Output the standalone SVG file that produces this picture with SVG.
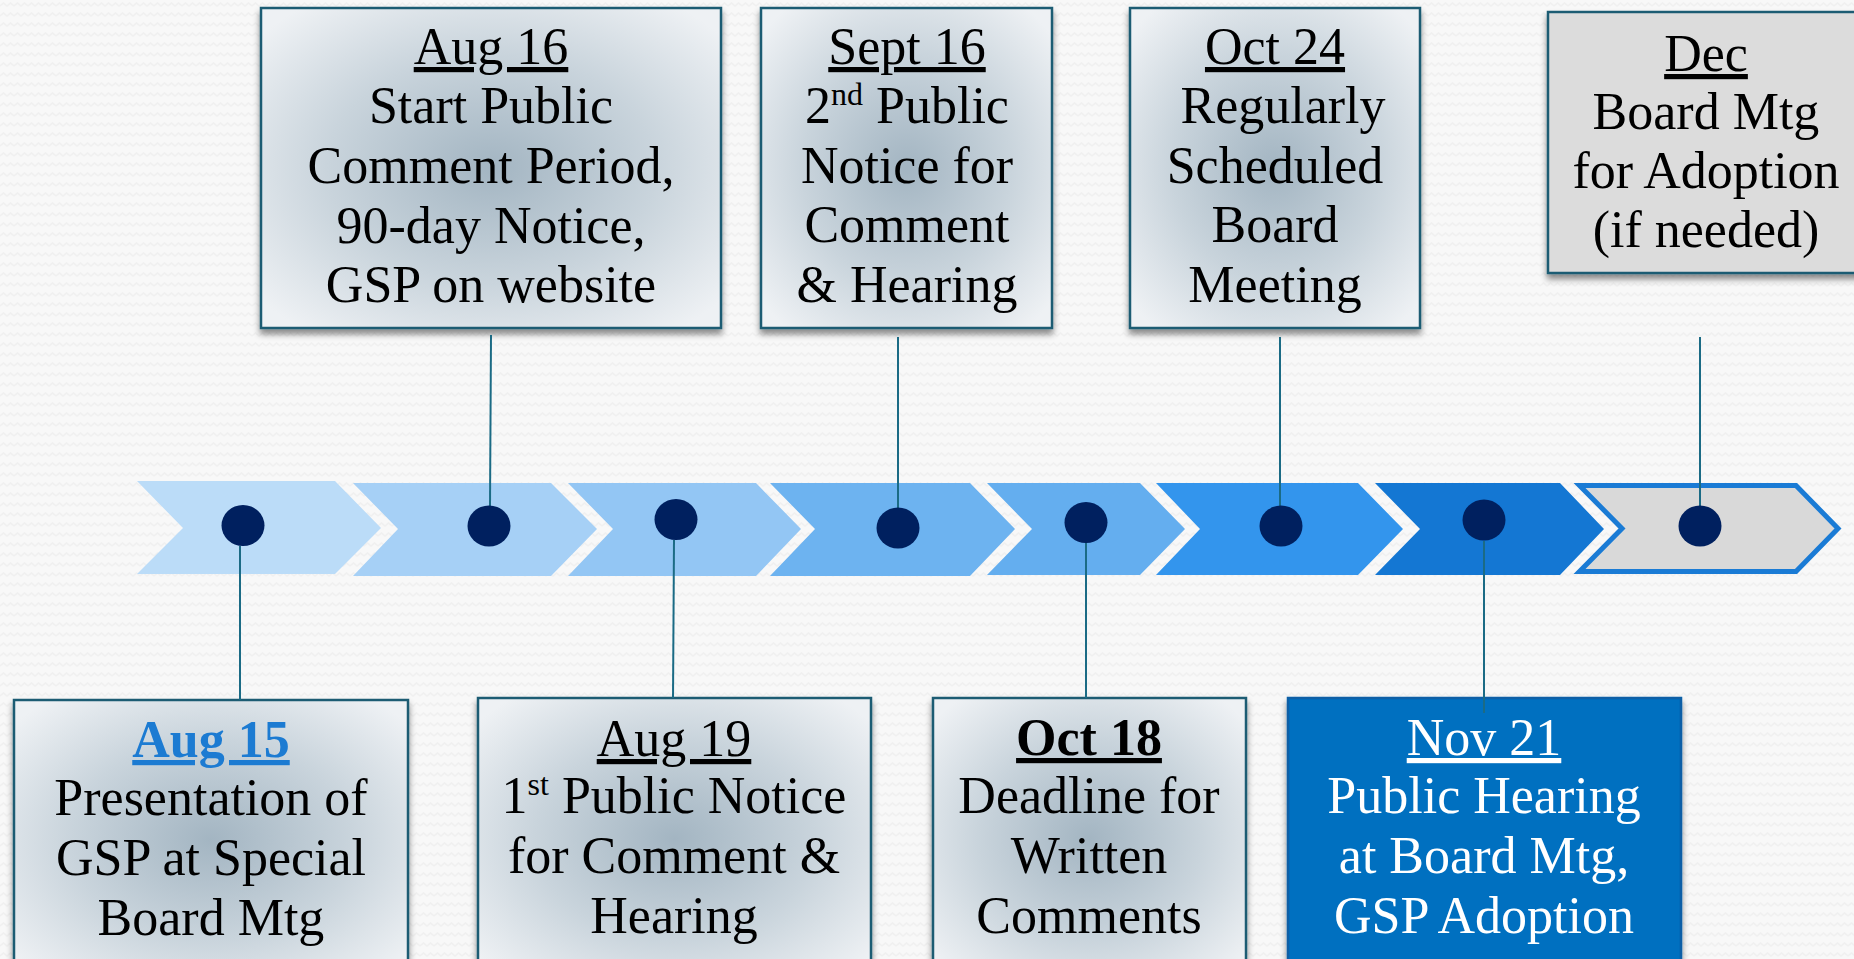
<svg xmlns="http://www.w3.org/2000/svg" width="1854" height="959" viewBox="0 0 1854 959">
<style>
.t{font-family:"Liberation Serif","Times New Roman",serif;font-size:52px;fill:#000;text-anchor:middle}
.u{text-decoration:underline}
.box{fill:url(#boxg);stroke:#1f5b73;stroke-width:2.5;filter:url(#sh)}
.ln{stroke:#1b6b85;stroke-width:2;fill:none}
.dot{fill:#00205f}
.w{fill:#fff}
</style>
<defs>
<pattern id="bgp" width="14" height="10" patternUnits="userSpaceOnUse">
<rect width="14" height="10" fill="#f8f8f8"/>
<polyline points="0,6 3.5,3 7,6 10.5,3 14,6" fill="none" stroke="#f0f0f0" stroke-width="1.5"/>
</pattern>
<radialGradient id="boxg" cx="50%" cy="50%" r="65%">
<stop offset="0" stop-color="#a3b5c2"/>
<stop offset="0.55" stop-color="#c9d4dc"/>
<stop offset="1" stop-color="#eef1f4"/>
</radialGradient>
<filter id="sh" x="-10%" y="-10%" width="120%" height="125%">
<feDropShadow dx="0" dy="5" stdDeviation="3" flood-color="#000" flood-opacity="0.45"/>
</filter>
</defs>
<rect width="1854" height="959" fill="url(#bgp)"/>

<g id="timeline">
<polygon points="137,481 335,481 381,528 335,574 137,574 183,528" fill="#bbdcf8"/>
<polygon points="353,483 551,483 597,529 551,576 353,576 398,529" fill="#a6d0f6"/>
<polygon points="568,483 756,483 801,529 756,576 568,576 613,529" fill="#93c6f4"/>
<polygon points="770,483 970,483 1015,529 970,576 770,576 815,529" fill="#6db3f0"/>
<polygon points="987,483 1140,483 1185,529 1140,575 987,575 1032,529" fill="#64aeef"/>
<polygon points="1156,483 1358,483 1403,529 1358,575 1156,575 1200,529" fill="#3395ed"/>
<polygon points="1375,483 1560,483 1604,529 1560,575 1375,575 1420,529" fill="#1477d3"/>
<polygon points="1579.5,485.5 1796,485.5 1838,528.5 1796,571.5 1579.5,571.5 1622,528.5" fill="#d9d9d9" stroke="#1a7bd5" stroke-width="5"/>
</g>

<g id="node-aug16">
<rect class="box" x="261" y="8" width="460" height="320"/>
<text class="t"><tspan class="u" x="491" y="64">Aug 16</tspan><tspan x="491" y="123">Start Public</tspan><tspan x="491" y="183">Comment Period,</tspan><tspan x="491" y="243">90-day Notice,</tspan><tspan x="491" y="302">GSP on website</tspan></text>
</g>
<g id="node-sept16">
<rect class="box" x="761" y="8" width="291" height="320"/>
<text class="t"><tspan class="u" x="907" y="64">Sept 16</tspan><tspan x="907" y="123">2<tspan font-size="32" dy="-18">nd</tspan><tspan dy="18"> Public</tspan></tspan><tspan x="907" y="183">Notice for</tspan><tspan x="907" y="242">Comment</tspan><tspan x="907" y="302">&amp; Hearing</tspan></text>
</g>
<g id="node-oct24">
<rect class="box" x="1130" y="8" width="290" height="320"/>
<text class="t"><tspan class="u" x="1275" y="64">Oct 24</tspan><tspan x="1283" y="123">Regularly</tspan><tspan x="1275" y="183">Scheduled</tspan><tspan x="1275" y="242">Board</tspan><tspan x="1275" y="302">Meeting</tspan></text>
</g>
<g id="node-dec">
<rect x="1548" y="12" width="330" height="261" fill="#dcdcdc" stroke="#1f5b73" stroke-width="2.5" filter="url(#sh)"/>
<text class="t"><tspan class="u" x="1706" y="71">Dec</tspan><tspan x="1706" y="129">Board Mtg</tspan><tspan x="1706" y="188">for Adoption</tspan><tspan x="1706" y="247">(if needed)</tspan></text>
</g>

<g id="node-aug15">
<rect class="box" x="14" y="700" width="394" height="280"/>
<text class="t"><tspan class="u" x="211" y="757" font-weight="bold" fill="#1c7bd2">Aug 15</tspan><tspan x="211" y="815">Presentation of</tspan><tspan x="211" y="875">GSP at Special</tspan><tspan x="211" y="935">Board Mtg</tspan></text>
</g>
<g id="node-aug19">
<rect class="box" x="478" y="698" width="393" height="282"/>
<text class="t"><tspan class="u" x="674" y="756">Aug 19</tspan><tspan x="674" y="813">1<tspan font-size="32" dy="-18">st</tspan><tspan dy="18"> Public Notice</tspan></tspan><tspan x="674" y="873">for Comment &amp;</tspan><tspan x="674" y="933">Hearing</tspan></text>
</g>
<g id="node-oct18">
<rect class="box" x="933" y="698" width="313" height="282"/>
<text class="t"><tspan class="u" x="1089" y="755" font-weight="bold">Oct 18</tspan><tspan x="1089" y="813">Deadline for</tspan><tspan x="1089" y="873">Written</tspan><tspan x="1089" y="933">Comments</tspan></text>
</g>
<g id="node-nov21">
<rect x="1288" y="698" width="393" height="282" fill="#0070c0" stroke="#0f5ea6" stroke-width="2.5" filter="url(#sh)"/>
<text class="t w"><tspan class="u" x="1484" y="755">Nov 21</tspan><tspan x="1484" y="813">Public Hearing</tspan><tspan x="1484" y="873">at Board Mtg,</tspan><tspan x="1484" y="933">GSP Adoption</tspan></text>
</g>

<g id="connectors">
<line class="ln" x1="240" y1="546" x2="240" y2="700"/>
<line class="ln" x1="491" y1="335" x2="490" y2="506"/>
<line class="ln" x1="674" y1="540" x2="673" y2="698"/>
<line class="ln" x1="898" y1="337" x2="898" y2="508"/>
<line class="ln" x1="1086" y1="543" x2="1086" y2="698"/>
<line class="ln" x1="1280" y1="337" x2="1280" y2="506"/>
<line class="ln" x1="1484" y1="541" x2="1484" y2="713"/>
<line class="ln" x1="1700" y1="337" x2="1700" y2="506"/>
</g>

<g id="dots">
<ellipse class="dot" cx="243" cy="525.5" rx="21.5" ry="20.5"/>
<ellipse class="dot" cx="489" cy="526" rx="21.5" ry="20.5"/>
<ellipse class="dot" cx="676" cy="519.5" rx="21.5" ry="20.5"/>
<ellipse class="dot" cx="898" cy="528" rx="21.5" ry="20.5"/>
<ellipse class="dot" cx="1086" cy="522.5" rx="21.5" ry="20.5"/>
<ellipse class="dot" cx="1281" cy="526" rx="21.5" ry="20.5"/>
<ellipse class="dot" cx="1484" cy="520" rx="21.5" ry="20.5"/>
<ellipse class="dot" cx="1700" cy="526" rx="21.5" ry="20.5"/>
</g>
</svg>
